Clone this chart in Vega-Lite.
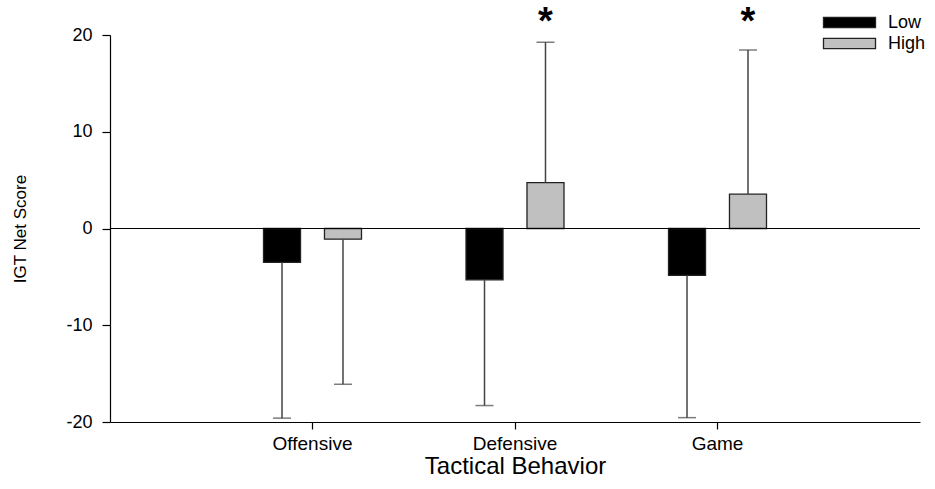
{
  "$schema": "https://vega.github.io/schema/vega-lite/v6.json",
  "autosize": "none",
  "width": 810,
  "height": 387,
  "padding": {"left": 110, "top": 35, "right": 15, "bottom": 67},
  "background": "white",
  "config": {
    "font": "Liberation Sans",
    "view": {"stroke": null},
    "axis": {"grid": false, "domainColor": "#000", "tickColor": "#000", "labelColor": "#000", "titleColor": "#000", "titleFontWeight": "normal", "domainWidth": 1.2, "tickWidth": 1.2}
  },
  "data": {
    "values": [
      {"behavior": "Offensive", "group": "Low", "mean": -3.5, "err": -19.6},
      {"behavior": "Offensive", "group": "High", "mean": -1.1, "err": -16.1},
      {"behavior": "Defensive", "group": "Low", "mean": -5.3, "err": -18.3},
      {"behavior": "Defensive", "group": "High", "mean": 4.75, "err": 19.25},
      {"behavior": "Game", "group": "Low", "mean": -4.85, "err": -19.55},
      {"behavior": "Game", "group": "High", "mean": 3.55, "err": 18.45}
    ]
  },
  "encoding": {
    "x": {
      "field": "behavior", "type": "nominal", "sort": ["Offensive", "Defensive", "Game"],
      "scale": {"paddingInner": 0, "paddingOuter": 0.5},
      "axis": {"title": "Tactical Behavior", "labelAngle": 0, "labelFontSize": 19, "titleFontSize": 24, "tickSize": 7, "labelPadding": 5, "titlePadding": 1}
    },
    "xOffset": {"field": "group", "type": "nominal", "sort": ["Low", "High"], "scale": {"paddingInner": 0.393, "paddingOuter": 0.857}}
  },
  "layer": [
    {
      "mark": {"type": "bar", "stroke": "#222", "strokeWidth": 1.3},
      "encoding": {
        "y": {"field": "mean", "type": "quantitative", "scale": {"domain": [-20, 20]},
          "axis": {"title": "IGT Net Score", "values": [-20, -10, 0, 10, 20], "labelExpr": "'' + datum.value", "labelFontSize": 18, "titleFontSize": 17, "tickSize": 8, "labelPadding": 10, "titlePadding": 36}},
        "color": {"field": "group", "type": "nominal", "sort": ["Low", "High"],
          "scale": {"domain": ["Low", "High"], "range": ["#000000", "#c0c0c0"]},
          "legend": {"title": null, "orient": "none", "legendX": 728, "legendY": -24, "labelFontSize": 18, "symbolType": "M-2.5,-0.5L2.5,-0.5L2.5,0.5L-2.5,0.5Z", "symbolSize": 433, "symbolStrokeColor": "#222", "symbolStrokeWidth": 1.3, "rowPadding": 0, "labelOffset": 27}}
      }
    },
    {
      "mark": {"type": "rule", "color": "#444", "strokeWidth": 1.5},
      "encoding": {"y": {"field": "mean", "type": "quantitative"}, "y2": {"field": "err"}}
    },
    {
      "mark": {"type": "tick", "orient": "horizontal", "color": "#444", "thickness": 1.5, "size": 18},
      "encoding": {"y": {"field": "err", "type": "quantitative"}}
    },
    {
      "data": {"values": [{"behavior": "Defensive", "group": "High", "pos": 23.2, "label": "*"}, {"behavior": "Game", "group": "High", "pos": 23.2, "label": "*"}]},
      "mark": {"type": "text", "fontSize": 38, "fontWeight": "bold", "baseline": "top", "color": "#000"},
      "encoding": {"y": {"field": "pos", "type": "quantitative"}, "text": {"field": "label"}}
    },
    {
      "data": {"values": [{"zero": 0}]},
      "mark": {"type": "rule", "color": "#000", "strokeWidth": 1.2},
      "encoding": {"y": {"field": "zero", "type": "quantitative"}, "x": null, "xOffset": null}
    }
  ]
}
